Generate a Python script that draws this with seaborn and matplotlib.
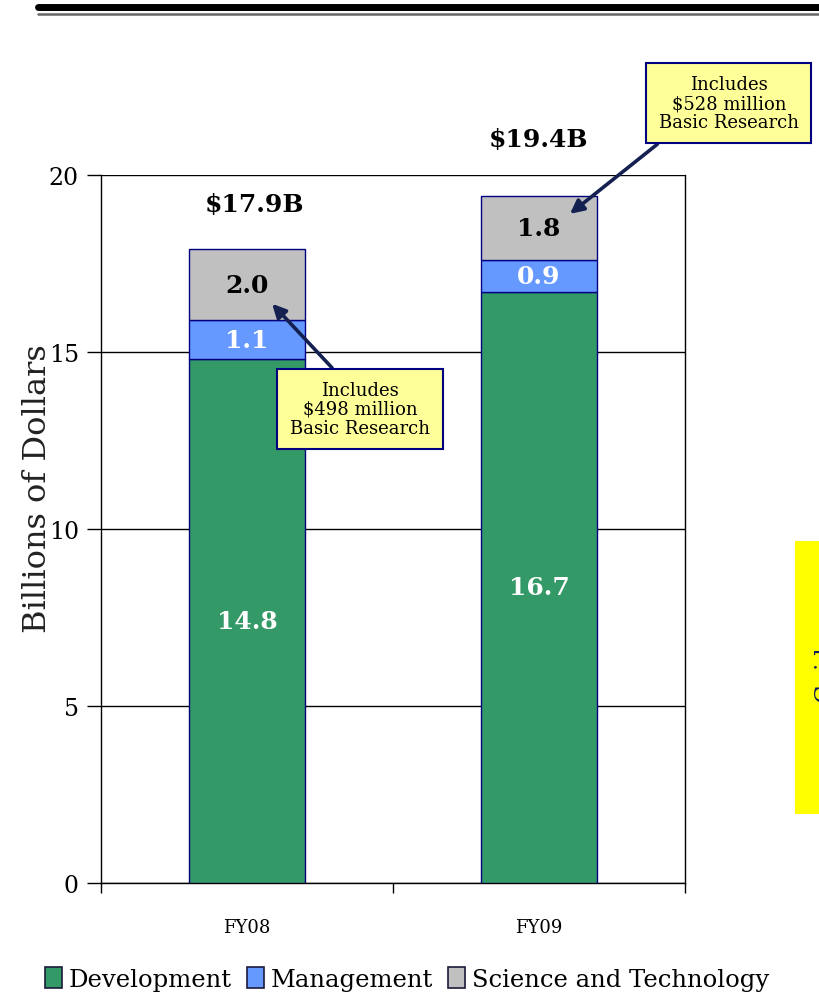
import seaborn as sns
import matplotlib.pyplot as plt
import matplotlib.patches as mpatches
import matplotlib.lines as mlines
import numpy as np

# ---------------------------------------------------------------
# Data
# ---------------------------------------------------------------
years = ["FY08", "FY09"]
development = [14.8, 16.7]
management = [1.1, 0.9]
sci_tech = [2.0, 1.8]
totals = ["$17.9B", "$19.4B"]
notes = ["Includes\n$498 million\nBasic Research",
         "Includes\n$528 million\nBasic Research"]

c_dev = "#339966"
c_mgmt = "#6699FF"
c_st = "#C0C0C0"
edge = "#000080"

sns.set_theme(style="white")
plt.rcParams["font.family"] = ["DejaVu Serif"]
plt.rcParams.update({"text.color": "black", "axes.labelcolor": "black",
                     "xtick.color": "black", "ytick.color": "black"})

fig = plt.figure(figsize=(8.19, 9.95), dpi=100)
ax = fig.add_axes([0.1233, 0.1116, 0.7131, 0.7116])

bottom2 = np.array(development) + np.array(management)

sns.barplot(x=years, y=development, color=c_dev, width=0.4, saturation=1,
            edgecolor=edge, linewidth=1, ax=ax, zorder=3)
sns.barplot(x=years, y=management, bottom=development, color=c_mgmt,
            saturation=1, width=0.4, edgecolor=edge, linewidth=1, ax=ax, zorder=3)
sns.barplot(x=years, y=sci_tech, bottom=bottom2, color=c_st, saturation=1,
            width=0.4, edgecolor=edge, linewidth=1, ax=ax, zorder=3)

ax.set_xlim(-0.5, 1.5)
ax.set_ylim(0, 20)
ax.set_yticks([0, 5, 10, 15, 20])
ax.yaxis.grid(True, color="black", linewidth=1)
ax.set_axisbelow(True)
for s in ["left", "bottom", "right"]:
    ax.spines[s].set_color("black")
    ax.spines[s].set_linewidth(1)
ax.spines["top"].set_visible(False)

ax.set_xticks([-0.5, 0.5, 1.5], minor=False)
ax.set_xticklabels(["", "", ""])
ax.set_xticks([0, 1], minor=True)
ax.set_xticklabels(years, minor=True, fontsize=13)
ax.tick_params(axis="x", which="major", direction="out", length=7,
               color="black", width=1, bottom=True)
ax.tick_params(axis="x", which="minor", length=0, pad=25)
ax.tick_params(axis="y", direction="out", length=10, color="black",
               width=1, left=True, labelsize=17, pad=6)
ax.set_xlabel("")
ax.set_ylabel("Billions of Dollars", fontsize=23, color="#222222")
ax.yaxis.set_label_coords(-0.082, 0.559)

# segment labels
for i in range(len(years)):
    ax.text(i, development[i] / 2, f"{development[i]:.1f}",
            ha="center", va="center", color="white", fontsize=18,
            fontweight="bold", zorder=5)
    ax.text(i, development[i] + management[i] / 2, f"{management[i]:.1f}",
            ha="center", va="center", color="white", fontsize=18,
            fontweight="bold", zorder=5)
    ax.text(i, bottom2[i] + sci_tech[i] / 2, f"{sci_tech[i]:.1f}",
            ha="center", va="center", color="black", fontsize=18,
            fontweight="bold", zorder=5)

# totals
ax.text(0.027, 19.18, totals[0], ha="center", va="center", fontsize=18,
        fontweight="bold", clip_on=False)
ax.text(0.997, 21.02, totals[1], ha="center", va="center", fontsize=18,
        fontweight="bold", clip_on=False)

# callouts
box = dict(boxstyle="square,pad=0.7", fc="#FFFF99", ec=edge, lw=1.5)
arrow = dict(arrowstyle="-|>", color="#14204F", lw=2.6, mutation_scale=20,
             shrinkA=0, shrinkB=0)
ax.annotate(notes[0], xy=(0.086, 16.36), xytext=(0.387, 13.39),
            fontsize=13, ha="center", va="center", bbox=box, linespacing=1.05,
            arrowprops=dict(arrow, relpos=(0.39, 1.0)), zorder=6)
ax.annotate(notes[1], xy=(1.106, 18.9), xytext=(1.65, 22.03),
            fontsize=13, ha="center", va="center", bbox=box, linespacing=1.05,
            arrowprops=dict(arrow, relpos=(0.11, 0.0)),
            annotation_clip=False, zorder=6)

# legend
handles = [mpatches.Patch(fc=c, ec="#1a1a3a", lw=1.2) for c in (c_dev, c_mgmt, c_st)]
fig.legend(handles, ["Development", "Management", "Science and Technology"],
           loc="center", bbox_to_anchor=(0.497, 0.015), ncol=3, frameon=False,
           fontsize=17.5, handlelength=0.7, handleheight=0.9,
           handletextpad=0.3, columnspacing=0.6)

# header rule
fig.add_artist(mlines.Line2D([0.046, 1.0], [0.9915, 0.9915], color="black", lw=5))
fig.add_artist(mlines.Line2D([0.046, 1.0], [0.985, 0.985], color="#666666", lw=1.8))

# yellow side panel (cut off at the edge)
fig.add_artist(mpatches.Rectangle((0.9707, 0.181), 0.05, 0.2745,
                                  transform=fig.transFigure, fc="#FFFF00", ec="none"))
fig.text(1.008, 0.33, "Guide", rotation=90, fontsize=17, color="#0D1B55",
         ha="center", va="center")

fig.savefig("out.png", dpi=100)
